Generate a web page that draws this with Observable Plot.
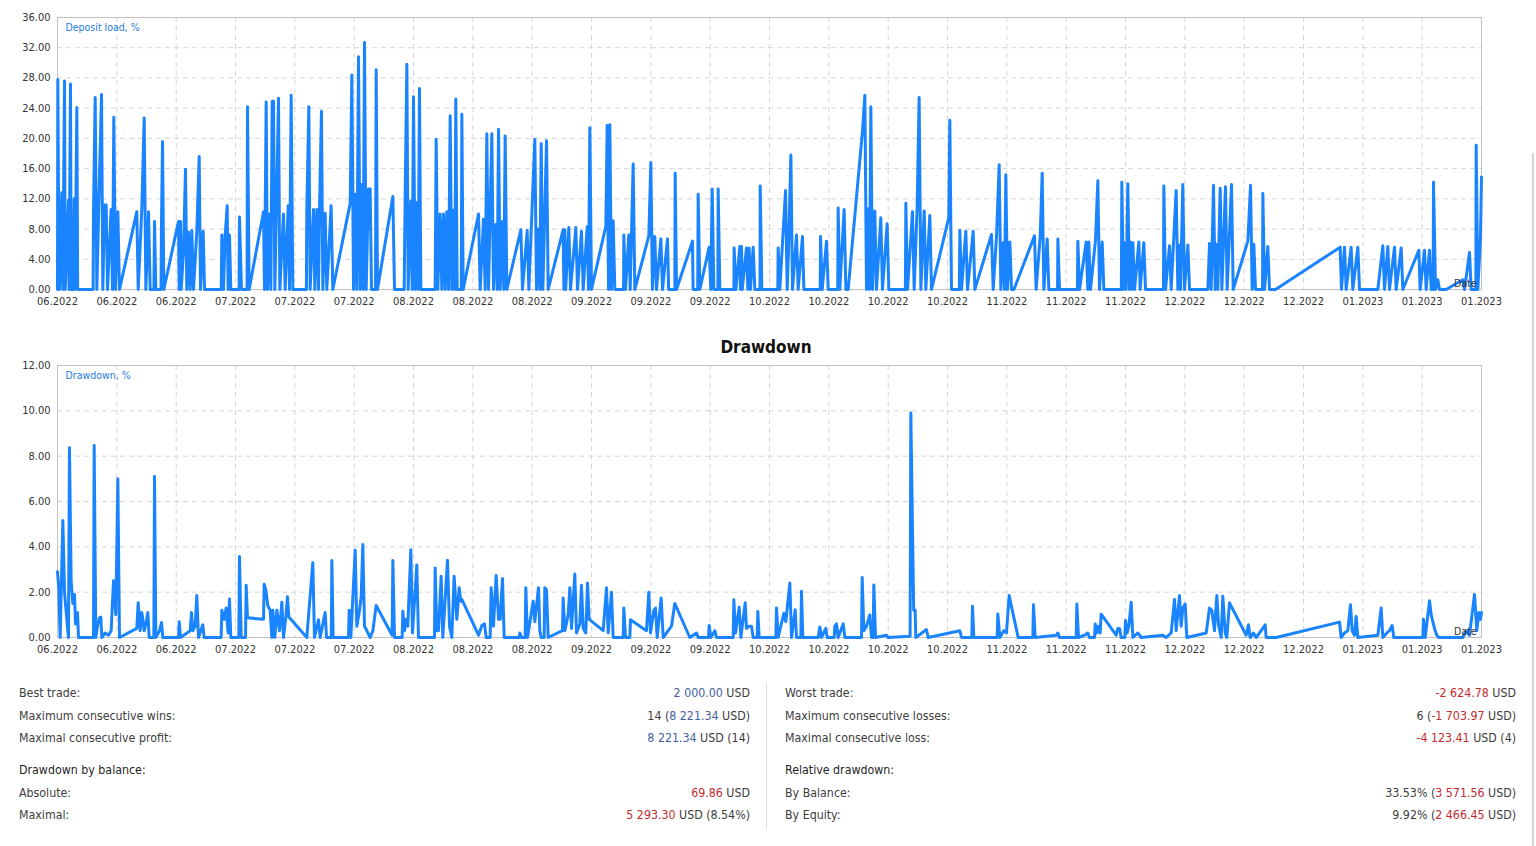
<!DOCTYPE html>
<html>
<head>
<meta charset="utf-8">
<script src="https://cdn.jsdelivr.net/npm/d3@7"></script>
<script src="https://cdn.jsdelivr.net/npm/@observablehq/plot@0.6"></script>
<style>
  html, body { margin: 0; padding: 0; background: #fff; }
  body { width: 1536px; height: 846px; position: relative; overflow: hidden;
         font-family: "DejaVu Sans Condensed", "DejaVu Sans", sans-serif; font-stretch: condensed; }
  #top, #bottom { position: absolute; left: 0; }
  #top { top: 0; }
  #bottom { top: 355px; }
  #ddTitle { position: absolute; left: 0; top: 335px; width: 1532px; text-align: center;
             font-size: 17px; font-weight: bold; color: #111; line-height: 24px; }
  .col { position: absolute; top: 682px; width: 731px; }
  .row { display: flex; justify-content: space-between; height: 22.6px; line-height: 22.6px;
         font-size: 12.3px; color: #3d3d3d; white-space: nowrap; }
  .row.head { margin-top: 9.5px; color: #1f1f1f; }
  .v { color: #41609f; }
  .r { color: #c22a2e; }
  #sep { position: absolute; left: 766px; top: 683px; width: 1px; height: 146px; background: #dcdcdc; }
  #scroll { position: absolute; left: 1532px; top: 153px; width: 2px; height: 693px; background: #d4d4d4; }
</style>
</head>
<body>
<div id="top"></div>
<div id="ddTitle"></div>
<div id="bottom"></div>
<div class="col" id="leftCol" style="left:19px"></div>
<div id="sep"></div>
<div class="col" id="rightCol" style="left:785px"></div>
<div id="scroll"></div>
<script>
// ---- Axis labels ----
const xTickLabels = ["06.2022","06.2022","06.2022","07.2022","07.2022","07.2022","08.2022","08.2022","08.2022",
  "09.2022","09.2022","09.2022","10.2022","10.2022","10.2022","10.2022","11.2022","11.2022","11.2022",
  "12.2022","12.2022","12.2022","01.2023","01.2023","01.2023"];
const loadYTicks = [0,4,8,12,16,20,24,28,32,36];
const ddYTicks = [0,2,4,6,8,10,12];
const loadLabel = "Deposit load, %";
const ddLabel = "Drawdown, %";
const axisLabel = "Date";
const ddTitle = "Drawdown";

// ---- Deposit load series: [position in x-tick units, load %] ----
const depositLoad = [
[0,0],[0.005,27.8],[0.02,9],[0.034,0],[0.073,12.8],[0.09,0],[0.118,27.6],[0.13,0],[0.15,4],[0.185,11.8],[0.195,0],
[0.219,27.2],[0.23,0],[0.26,0],[0.281,12],[0.295,0],[0.326,24.1],[0.34,0],[0.6,0],[0.607,10.5],[0.635,25.4],[0.663,0],
[0.697,11.5],[0.742,25.8],[0.764,0],[0.792,11.2],[0.82,11.2],[0.843,0],[0.904,10.6],[0.927,0],[0.949,22.8],[0.978,0],
[1.017,10.3],[1.045,0],[1.337,10.3],[1.36,0],[1.421,10.6],[1.461,22.7],[1.489,0],[1.534,10.3],[1.562,0],[1.625,0],
[1.635,9.0],[1.657,0],[1.745,0],[1.753,9.0],[1.77,19.6],[1.792,0],[2.039,9.0],[2.05,0],[2.073,9.0],[2.085,0],[2.124,5],
[2.157,15.9],[2.18,0],[2.208,7.6],[2.236,0],[2.264,7.8],[2.292,0],[2.348,7.7],[2.388,17.6],[2.41,0],[2.455,7.7],
[2.478,0],[2.76,0],[2.77,7.2],[2.798,0],[2.826,7.2],[2.86,11.1],[2.876,0],[2.899,7.2],[2.921,0],[3.06,0],[3.067,9.6],
[3.101,0],[3.195,0],[3.202,24.2],[3.23,0],[3.472,10.3],[3.489,0],[3.517,24.8],[3.539,0],[3.573,10],[3.596,0],
[3.618,24.9],[3.64,24.9],[3.663,0],[3.725,25.3],[3.747,0],[3.809,10],[3.837,0],[3.888,11.1],[3.91,0],[3.938,25.7],
[3.966,0],[4.195,0],[4.202,10.6],[4.236,24.2],[4.258,0],[4.315,10.6],[4.337,0],[4.371,10.6],[4.399,0],[4.416,10.6],
[4.449,23.6],[4.472,0],[4.511,10.1],[4.539,0],[4.612,11.1],[4.64,0],[4.933,11.4],[4.961,28.4],[4.989,0],[5.017,12.6],
[5.045,0],[5.073,30.8],[5.101,0],[5.129,13.9],[5.152,0],[5.174,32.7],[5.202,0],[5.242,13.3],[5.27,13.3],[5.292,0],
[5.36,0],[5.371,29.1],[5.393,0],[5.652,12.3],[5.68,0],[5.843,0],[5.86,12.7],[5.888,29.8],[5.91,0],[5.955,11.7],
[5.978,0],[6.0,25.5],[6.028,0],[6.056,11.5],[6.079,0],[6.101,26.6],[6.124,0],[6.365,0],[6.382,19.9],[6.41,0],
[6.449,10],[6.478,0],[6.506,10],[6.534,0],[6.562,10.3],[6.59,0],[6.618,23],[6.646,0],[6.674,10.5],[6.697,0],
[6.713,25.2],[6.736,0],[6.805,0],[6.815,23.2],[6.837,0],[7.096,10],[7.124,0],[7.18,9.3],[7.208,0],[7.236,20.6],
[7.264,0],[7.32,20.6],[7.348,0],[7.388,8.6],[7.41,0],[7.433,21.2],[7.461,0],[7.5,9],[7.522,0],[7.545,20.3],[7.573,0],
[7.809,7.9],[7.837,0],[7.916,7.8],[7.944,0],[8.045,19.9],[8.073,0],[8.107,8],[8.129,0],[8.152,19.3],[8.18,0],
[8.242,19.7],[8.27,0],[8.522,7.9],[8.535,0],[8.551,7.9],[8.565,0],[8.618,8.2],[8.646,0],[8.736,8.2],[8.764,0],
[8.831,7.7],[8.86,0],[8.927,8.3],[8.949,0],[8.972,21.4],[9.0,0],[9.242,8.4],[9.264,21.7],[9.287,0],[9.309,21.8],
[9.337,0],[9.365,9.1],[9.393,0],[9.54,0],[9.545,7.2],[9.573,0],[9.629,7.2],[9.652,0],[9.702,16.6],[9.73,0],
[9.966,7.1],[10.0,16.8],[10.028,0],[10.067,7.0],[10.096,0],[10.169,6.7],[10.197,0],[10.281,6.7],[10.3,0],[10.405,0],
[10.41,15.4],[10.433,0],[10.702,6.4],[10.713,0],[10.79,0],[10.798,12.6],[10.826,0],[10.983,5.6],[11.011,0],
[11.034,13.3],[11.062,0],[11.13,0],[11.135,13.3],[11.163,0],[11.4,0],[11.404,5.5],[11.433,0],[11.5,5.7],[11.51,0],
[11.528,5.7],[11.54,0],[11.612,5.5],[11.635,0],[11.657,5.5],[11.68,0],[11.725,5.6],[11.753,0],[11.84,0],[11.843,13.7],
[11.871,0],[12.14,0],[12.146,5.5],[12.174,0],[12.27,13.1],[12.298,0],[12.32,5],[12.36,17.8],[12.388,0],[12.455,7.2],
[12.483,0],[12.556,7],[12.579,0],[12.855,0],[12.86,7],[12.888,0],[12.961,6.4],[12.989,0],[13.15,0],[13.157,10.8],
[13.185,0],[13.258,10.6],[13.287,0],[13.326,0],[13.567,21],[13.607,25.7],[13.635,0],[13.663,10.7],[13.685,0],
[13.708,24.2],[13.736,0],[13.775,10.4],[13.803,0],[13.876,9.5],[13.904,0],[13.983,8.7],[14.011,0],[14.29,0],
[14.298,11.4],[14.326,0],[14.41,10.3],[14.438,0],[14.489,11],[14.522,25.4],[14.551,0],[14.607,10.4],[14.635,0],
[14.702,9.8],[14.73,0],[15.022,9.5],[15.039,22.4],[15.067,0],[15.2,0],[15.208,7.8],[15.236,0],[15.309,7.7],
[15.337,0],[15.433,7.7],[15.461,0],[15.742,7.3],[15.77,0],[15.826,7],[15.871,16.5],[15.899,0],[15.938,6.2],[15.961,0],
[15.983,15.2],[16.011,0],[16.051,6.3],[16.079,0],[16.12,0],[16.466,7.1],[16.494,0],[16.562,7],[16.596,15.4],
[16.624,0],[16.68,6.7],[16.708,0],[16.855,0],[16.86,6.7],[16.888,0],[17.19,0],[17.197,6.4],[17.225,0],[17.337,6.3],
[17.365,0],[17.382,6.3],[17.41,0],[17.494,6.5],[17.534,14.4],[17.562,0],[17.607,6.3],[17.635,0],[17.93,0],
[17.938,14.2],[17.966,0],[17.983,6.2],[18.011,0],[18.039,14.0],[18.067,0],[18.084,6.3],[18.107,0],[18.124,6.2],
[18.152,0],[18.225,6.3],[18.247,0],[18.309,6.2],[18.337,0],[18.64,0],[18.646,13.7],[18.674,0],[18.742,5.8],
[18.77,0],[18.854,13.1],[18.882,0],[18.899,5.9],[18.927,0],[18.966,13.9],[18.994,0],[19.051,5.9],[19.079,0],
[19.388,0],[19.416,6.1],[19.444,0],[19.483,13.8],[19.511,0],[19.528,6],[19.556,0],[19.596,13.4],[19.624,0],
[19.685,13.6],[19.713,0],[19.787,13.9],[19.815,0],[20.062,6.4],[20.107,13.8],[20.135,0],[20.163,6],[20.191,0],
[20.31,0],[20.315,12.7],[20.343,0],[20.399,5.7],[20.427,0],[20.528,0],[21.618,5.6],[21.64,0],[21.691,5.6],[21.719,0],
[21.803,5.6],[21.831,0],[21.916,5.6],[21.944,0],[22.253,0],[22.337,5.8],[22.365,0],[22.421,5.7],[22.449,0],
[22.534,5.6],[22.562,0],[22.646,5.5],[22.674,0],[22.944,5.2],[22.966,0],[23.039,5.2],[23.067,0],[23.124,5.2],
[23.152,0],[23.185,0],[23.191,14.2],[23.225,0],[23.264,1.3],[23.292,0],[23.404,0],[23.685,1.3],[23.713,0],
[23.798,4.9],[23.826,0],[23.905,0],[23.91,19.1],[23.938,0],[23.983,7],[24.0,14.9]
];

// ---- Drawdown series: [position in x-tick units, drawdown %] ----
const drawdown = [
[0,2.9],[0.022,2.2],[0.045,0],[0.09,5.16],[0.118,2],[0.157,0.8],[0.185,0],[0.202,8.37],[0.23,2.5],[0.258,1.5],
[0.287,1.9],[0.303,0.6],[0.337,1.1],[0.354,0],[0.607,0],[0.618,8.47],[0.646,0],[0.674,0.5],[0.708,0.88],[0.73,0.9],
[0.747,0],[0.803,0.2],[0.86,0.1],[0.904,0.3],[0.944,2.5],[0.983,1],[1.017,7.0],[1.045,0],[1.337,0.4],[1.36,1.53],
[1.393,0.3],[1.421,1.1],[1.461,0.3],[1.489,0.6],[1.522,1.1],[1.545,0],[1.624,0],[1.635,7.1],[1.657,0],[1.719,0.3],
[1.753,0.66],[1.775,0],[2.039,0],[2.051,0.7],[2.073,0],[2.236,0.3],[2.258,1.1],[2.281,0.3],[2.32,0.5],[2.348,1.85],
[2.376,0],[2.416,0.3],[2.449,0.56],[2.472,0],[2.758,0],[2.77,1.2],[2.809,0.8],[2.843,1.3],[2.876,0.2],[2.899,1.7],
[2.921,0],[3.056,0],[3.067,3.57],[3.096,0],[3.169,0],[3.18,2.3],[3.202,0.87],[3.472,0.8],[3.483,2.35],[3.511,2.1],
[3.545,1.4],[3.584,1.2],[3.612,0],[3.629,1.2],[3.663,0],[3.697,1.2],[3.742,0.3],[3.781,1.56],[3.809,0],[3.848,0.9],
[3.876,1.8],[3.899,0.9],[3.933,0.8],[4.202,0],[4.303,3.3],[4.331,0],[4.399,0.78],[4.427,0],[4.511,1.1],[4.534,0],
[4.615,0],[4.624,3.4],[4.646,0],[4.904,0],[4.916,1.2],[4.944,0],[5.017,3.85],[5.045,0.5],[5.09,1.2],[5.118,1.8],
[5.146,4.1],[5.174,0.5],[5.213,0.3],[5.27,0],[5.315,0.3],[5.371,1.41],[5.64,0.1],[5.652,3.4],[5.68,0],[5.809,0],
[5.82,1.16],[5.848,0.3],[5.876,0.8],[5.904,0.5],[5.955,3.87],[5.983,0.2],[6.056,3.2],[6.084,0],[6.354,0],[6.365,3.07],
[6.393,0.3],[6.421,0.3],[6.466,2.7],[6.494,0],[6.573,3.41],[6.607,0.5],[6.646,0],[6.685,2.7],[6.73,0.8],[6.77,2.2],
[6.798,1.6],[6.815,1.68],[7.096,0.1],[7.152,0.53],[7.197,0.6],[7.225,0],[7.292,0],[7.309,2.2],[7.348,0.5],
[7.393,2.74],[7.433,0.8],[7.461,0.8],[7.5,2.6],[7.528,0],[7.781,0],[7.792,0.2],[7.82,0],[7.882,0],[7.893,2.2],
[7.921,0],[8.017,1.6],[8.045,0.7],[8.073,1.4],[8.107,2.2],[8.129,0.3],[8.152,0],[8.202,0],[8.213,2.2],[8.242,2.1],
[8.27,0],[8.511,0.3],[8.522,1.74],[8.551,0.3],[8.607,1.0],[8.635,2.2],[8.663,0.4],[8.719,2.8],[8.747,0.2],[8.803,0.6],
[8.831,2.3],[8.86,0.4],[8.904,0.2],[8.933,2.4],[8.961,0.8],[9.197,0.3],[9.253,2.2],[9.281,0.2],[9.337,2.0],[9.365,0],
[9.534,0],[9.545,1.3],[9.573,0],[9.646,0],[9.657,0.78],[9.927,0.3],[9.966,2.0],[9.994,0.2],[10.051,1.2],[10.079,1.3],
[10.107,0],[10.174,1.74],[10.208,0],[10.348,0.5],[10.404,1.5],[10.657,0],[10.77,0.2],[10.798,0],[10.972,0],
[10.983,0.53],[11.011,0],[11.079,0.3],[11.107,0],[11.388,0],[11.399,1.66],[11.427,0.2],[11.489,1.34],[11.517,0],
[11.59,1.53],[11.612,0.4],[11.657,0.5],[11.697,0.5],[11.725,0],[11.792,0],[11.803,1.15],[11.826,0],[12.107,0],
[12.118,1.3],[12.146,0],[12.242,1.07],[12.275,0.7],[12.343,2.4],[12.371,0],[12.433,1.22],[12.455,0],[12.528,0],
[12.539,2.04],[12.562,0],[12.82,0],[12.848,0.46],[12.876,0],[12.949,0.4],[12.972,0],[13.09,0],[13.101,0.5],
[13.129,0.6],[13.157,0],[13.242,0.6],[13.27,0],[13.551,0],[13.562,2.65],[13.59,0.3],[13.635,0.5],[13.691,1.0],
[13.719,0],[13.747,0],[13.758,2.32],[13.787,0],[13.972,0.1],[14.0,0],[14.37,0.05],[14.382,9.9],
[14.43,1.2],[14.455,1.2],[14.465,0],[14.646,0.35],[14.674,0],[15.208,0.3],[15.236,0],[15.41,0],[15.421,1.38],
[15.444,0],[15.837,0],[15.848,1.04],[15.882,0],[15.949,0.3],[15.994,0.2],[16.039,1.85],[16.191,0],[16.438,0],
[16.449,1.44],[16.478,0],[16.831,0.1],[16.86,0.2],[16.888,0],[17.169,0],[17.18,1.48],[17.208,0],[17.309,0.1],
[17.365,0.2],[17.393,0],[17.478,0],[17.489,0.6],[17.517,0.2],[17.545,0.5],[17.573,0.2],[17.59,1.03],[17.843,0.1],
[17.871,0.4],[17.899,0.4],[17.927,0],[17.989,0],[18.0,0.75],[18.028,0.2],[18.056,0.5],[18.096,1.56],[18.124,0],
[18.208,0.2],[18.236,0.1],[18.264,0],[18.629,0.1],[18.685,0],[18.77,0.2],[18.826,1.68],[18.854,0.3],[18.91,1.85],
[18.938,0.5],[18.966,1.3],[19.006,1.48],[19.034,0],[19.36,0.2],[19.416,1.3],[19.455,1.2],[19.5,0.3],[19.539,1.85],
[19.567,0.6],[19.612,0],[19.64,1.82],[19.68,0.2],[19.708,0],[19.753,1.53],[20.034,0.1],[20.073,0.56],[20.101,0],
[20.157,0.2],[20.202,0],[20.287,0.3],[20.354,0.56],[20.371,0],[20.539,0],[21.607,0.68],[21.635,0],[21.691,0.2],
[21.747,0.3],[21.792,1.44],[21.82,0.3],[21.86,0.1],[21.888,0.93],[21.916,0],[22.253,0.1],[22.309,1.3],[22.337,0],
[22.404,0.2],[22.449,0.3],[22.494,0.53],[22.522,0],[23.011,0],[23.022,0.8],[23.051,0],[23.124,1.62],[23.152,1.0],
[23.208,0.4],[23.247,0.1],[23.281,0],[23.685,0],[23.742,0.3],[23.798,0.1],[23.882,1.9],[23.921,0.3],[23.955,1.1],
[23.983,0.8],[24.0,1.1]
];

// ---- Statistics (segments: [text, kind]  kind: "t" plain, "v" blue, "r" red) ----
const leftStats = [
  ["Best trade:", [["2 000.00","v"],[" USD","t"]]],
  ["Maximum consecutive wins:", [["14 (","t"],["8 221.34","v"],[" USD)","t"]]],
  ["Maximal consecutive profit:", [["8 221.34","v"],[" USD (14)","t"]]],
  ["Drawdown by balance:", null],
  ["Absolute:", [["69.86","r"],[" USD","t"]]],
  ["Maximal:", [["5 293.30","r"],[" USD (8.54%)","t"]]]
];
const rightStats = [
  ["Worst trade:", [["-2 624.78","r"],[" USD","t"]]],
  ["Maximum consecutive losses:", [["6 (","t"],["-1 703.97","r"],[" USD)","t"]]],
  ["Maximal consecutive loss:", [["-4 123.41","r"],[" USD (4)","t"]]],
  ["Relative drawdown:", null],
  ["By Balance:", [["33.53% (","t"],["3 571.56","r"],[" USD)","t"]]],
  ["By Equity:", [["9.92% (","t"],["2 466.45","r"],[" USD)","t"]]]
];

const lineColor = "#1a84ff";
const tickPositions = xTickLabels.map((_, i) => i);

function chart(points, yTicks, label, marginTop) {
  const plotH = 272;
  return Plot.plot({
    width: 1536,
    height: marginTop + plotH + 21,
    marginLeft: 57, marginRight: 55, marginTop, marginBottom: 21,
    style: { fontFamily: '"DejaVu Sans Condensed", "DejaVu Sans", sans-serif', fontSize: "11px", color: "#333", background: "transparent" },
    x: { domain: [0, xTickLabels.length - 1], ticks: tickPositions, tickFormat: i => xTickLabels[i], tickSize: 0, tickPadding: 8, label: null },
    y: { domain: [yTicks[0], yTicks[yTicks.length - 1]], ticks: yTicks, tickFormat: d => d.toFixed(2), tickSize: 0, tickPadding: 7, label: null },
    marks: [
      Plot.gridX(tickPositions, { stroke: "#d6d6d6", strokeOpacity: 1, strokeDasharray: "5,4" }),
      Plot.gridY(yTicks, { stroke: "#d6d6d6", strokeOpacity: 1, strokeDasharray: "5,4" }),
      Plot.frame({ stroke: "#c2c2c2" }),
      Plot.line(points, { x: d => d[0], y: d => d[1], stroke: lineColor, strokeWidth: 3, strokeLinejoin: "round", curve: "linear" }),
      Plot.text([label], { frameAnchor: "top-left", dx: 8, dy: 6, text: d => d, fill: "#1f7ee0", fontSize: 10.5, textAnchor: "start" }),
      Plot.text([axisLabel], { frameAnchor: "bottom-right", dx: -5, dy: -3, text: d => d, fill: "#333", fontSize: 10.5, textAnchor: "end", lineAnchor: "bottom" })
    ]
  });
}

document.getElementById("top").append(chart(depositLoad, loadYTicks, loadLabel, 17));
document.getElementById("bottom").append(chart(drawdown, ddYTicks, ddLabel, 10));
document.getElementById("ddTitle").textContent = ddTitle;

function fillCol(id, rows) {
  const col = document.getElementById(id);
  rows.forEach(([label, segs]) => {
    const row = document.createElement("div");
    row.className = "row" + (segs ? "" : " head");
    const l = document.createElement("span");
    l.textContent = label;
    row.append(l);
    if (segs) {
      const r = document.createElement("span");
      segs.forEach(([txt, kind]) => {
        const s = document.createElement("span");
        if (kind !== "t") s.className = kind;
        s.textContent = txt;
        r.append(s);
      });
      row.append(r);
    }
    col.append(row);
  });
}
fillCol("leftCol", leftStats);
fillCol("rightCol", rightStats);
</script>
</body>
</html>
